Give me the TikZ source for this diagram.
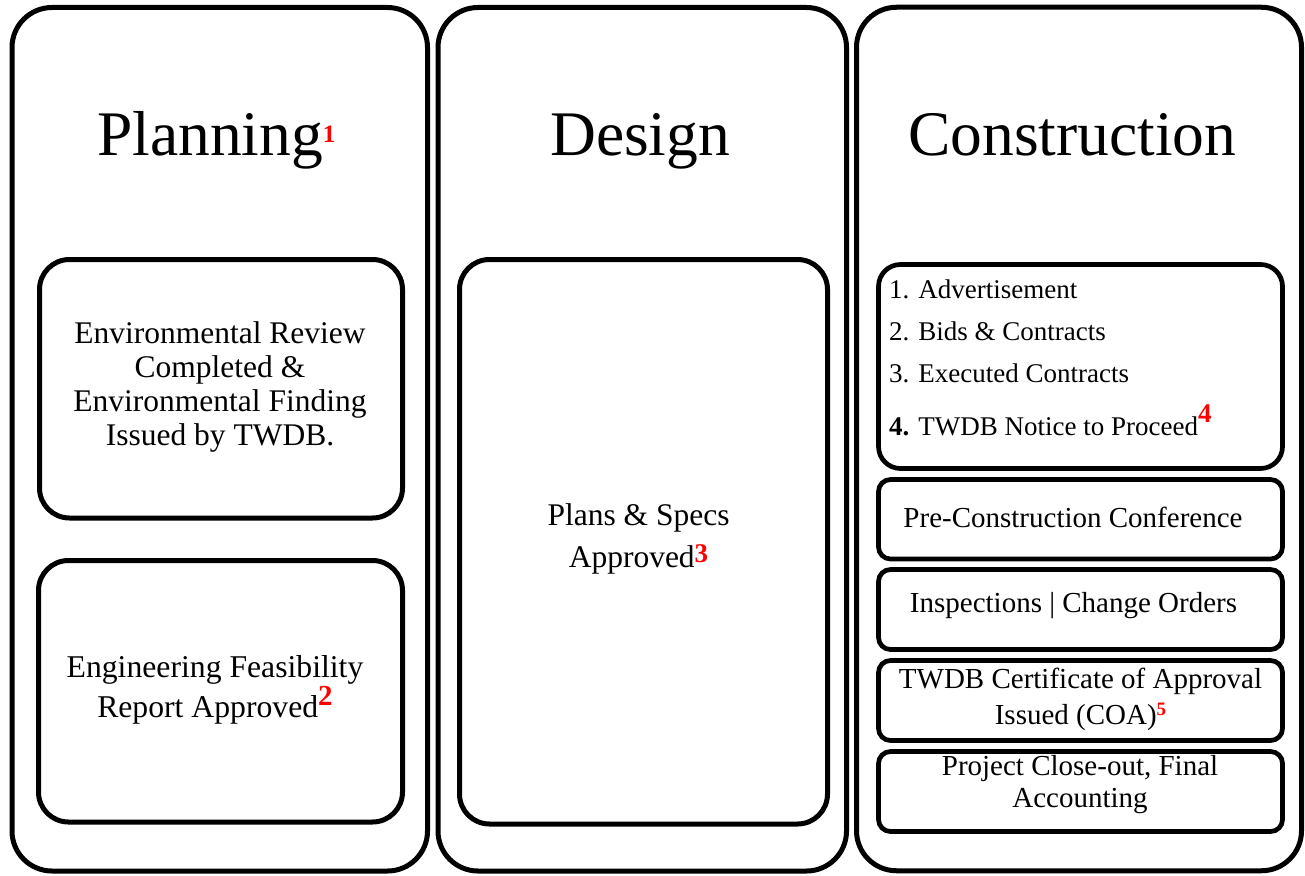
\documentclass[tikz,border=0pt]{standalone}
\usepackage{fontspec}
\setmainfont{Liberation Serif}
\definecolor{supred}{RGB}{255,0,0}
\newcommand{\redsup}[3]{\raisebox{#2pt}{\fontsize{#1}{#1}\selectfont\bfseries\color{supred}#3}}
\begin{document}
\begin{tikzpicture}[x=1pt,y=-1pt,
  outerbox/.style={draw, line width=5pt, rounded corners=40pt, inner sep=0pt, minimum height=863.5pt},
  bigbox/.style={draw, line width=5pt, rounded corners=30pt, inner sep=0pt},
  listbox/.style={draw, line width=4.7pt, rounded corners=22pt, inner sep=0pt, minimum width=404pt},
  smallbox/.style={draw, line width=4.7pt, rounded corners=12pt, inner sep=0pt, minimum width=404pt, minimum height=80pt},
  title/.style={inner sep=0pt, anchor=base west, font=\fontsize{63.5}{70}\selectfont},
  txt/.style={inner sep=0pt, anchor=base, align=center},
]
\useasboundingbox (0,0) rectangle (1305,875);
% outer columns
\node[outerbox, minimum width=415.5pt] (planning) at (219.75,439.25) {};
\node[outerbox, minimum width=408.5pt] (design) at (642.25,439.25) {};
\node[outerbox, minimum width=445pt] (construction) at (1079,439) {};
% titles
\node[title] (tplan) at (97,155) {Planning\redsup{25}{13}{1}};
\node[title] (tdes) at (550,155) {Design};
\node[title] (tcon) at (908,155) {Construction};
% planning boxes
\node[bigbox, minimum width=363pt, minimum height=258.5pt] (env) at (221,388.75) {};
\node[bigbox, minimum width=364pt, minimum height=261.5pt] (eng) at (220.5,691.25) {};
\node[txt, font=\fontsize{31.5}{34}\selectfont] (tenv) at (220,445)
  {Environmental Review\\Completed \&\\Environmental Finding\\Issued by TWDB.};
\node[txt, font=\fontsize{31.7}{40}\selectfont] (teng) at (215,717)
  {Engineering Feasibility\\Report Approved\redsup{29}{12}{2}};
% design box
\node[bigbox, minimum width=368pt, minimum height=564.5pt] (plans) at (643.5,541.75) {};
\node[txt, font=\fontsize{31.5}{42}\selectfont] (tplans) at (638.5,567)
  {Plans \& Specs\\Approved\redsup{27}{5}{3}};
% construction boxes
\node[listbox, minimum height=204pt] (c1) at (1080.5,366.5) {};
\node[smallbox, minimum height=79.5pt] (c2) at (1080.5,519.25) {};
\node[smallbox] (c3) at (1080.5,609.5) {};
\node[smallbox] (c4) at (1080.5,700.5) {};
\node[smallbox] (c5) at (1080.5,791.5) {};
\node[inner sep=0pt, anchor=base west, align=left, font=\fontsize{27}{42}\selectfont] (tc1) at (889,435)
  {1. Advertisement\\2. Bids \& Contracts\\3. Executed Contracts\\[11pt]\textbf{4.} TWDB Notice to Proceed\redsup{27}{13}{4}};
\node[txt, font=\fontsize{29}{33}\selectfont] (tc2) at (1073,527) {Pre-Construction Conference};
\node[txt, font=\fontsize{29}{33}\selectfont] (tc3) at (1073.5,612) {Inspections | Change Orders};
\node[txt, font=\fontsize{29}{36}\selectfont] (tc4) at (1080.5,724)
  {TWDB Certificate of Approval\\Issued (COA)\redsup{19}{9}{5}};
\node[txt, font=\fontsize{29}{32}\selectfont] (tc5) at (1080,807)
  {Project Close-out, Final\\Accounting};
\end{tikzpicture}
\end{document}
